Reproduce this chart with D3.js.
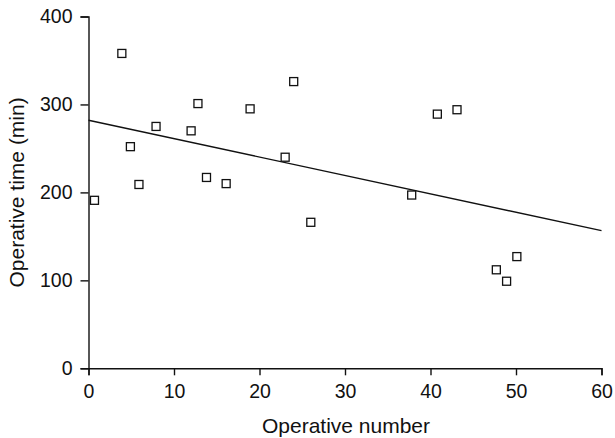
<!DOCTYPE html>
<html>
<head>
<meta charset="utf-8">
<script src="https://cdn.jsdelivr.net/npm/d3@7"></script>
<style>
  html, body { margin: 0; padding: 0; background: #fff; }
  svg { display: block; }
  text { font-family: "Liberation Sans", Arial, sans-serif; fill: #111; }
</style>
</head>
<body>
<svg id="chart" width="615" height="438"></svg>
<script>
// Data
const operativeNumber = [0.7, 3.9, 4.9, 5.9, 7.9, 12, 12.8, 13.8, 16.1, 18.9, 23, 24, 26, 37.8, 40.8, 43.1, 47.7, 48.9, 50.1];
const operativeTime   = [191, 358, 252, 209, 275, 270, 301, 217, 210, 295, 240, 326, 166, 197, 289, 294, 112, 99, 127];
const trendX = [0, 60];
const trendY = [282, 156.5];
const xTicks = [0, 10, 20, 30, 40, 50, 60];
const yTicks = [0, 100, 200, 300, 400];
const xLabel = "Operative number";
const yLabel = "Operative time (min)";

const svg = d3.select("#chart");
const x = d3.scaleLinear().domain([0, 60]).range([88.5, 601.5]);
const y = d3.scaleLinear().domain([0, 400]).range([368.3, 16.5]);

const stroke = "#111";

// X axis
const gx = svg.append("g")
  .attr("transform", `translate(0,${y(0)})`)
  .call(d3.axisBottom(x).tickValues(xTicks).tickSizeOuter(0).tickSize(7).tickPadding(9));
// Y axis
const gy = svg.append("g")
  .attr("transform", `translate(${x(0)},0)`)
  .call(d3.axisLeft(y).tickValues(yTicks).tickSizeOuter(0).tickSize(8).tickPadding(8));

[gx, gy].forEach(g => {
  g.select(".domain").attr("stroke", stroke).attr("stroke-width", 1.4);
  g.selectAll(".tick line").attr("stroke", stroke).attr("stroke-width", 1.4);
  g.selectAll(".tick text")
    .attr("font-family", "Liberation Sans, Arial, sans-serif")
    .attr("font-size", 19.5)
    .attr("fill", "#111");
});

// Trend line
const trend = trendX.map((d, i) => [d, trendY[i]]);
svg.append("path")
  .datum(trend)
  .attr("fill", "none")
  .attr("stroke", stroke)
  .attr("stroke-width", 1.4)
  .attr("d", d3.line().x(d => x(d[0])).y(d => y(d[1])));

// Points: open squares
const pts = operativeNumber.map((d, i) => ({ x: d, y: operativeTime[i] }));
const s = 8;
svg.append("g").selectAll("rect")
  .data(pts)
  .join("rect")
  .attr("x", d => x(d.x) - s / 2)
  .attr("y", d => y(d.y) - s / 2)
  .attr("width", s)
  .attr("height", s)
  .attr("fill", "#fff")
  .attr("stroke", stroke)
  .attr("stroke-width", 1.3);

// Axis titles
svg.append("text")
  .attr("x", (x(0) + x(60)) / 2 + 1)
  .attr("y", 433)
  .attr("text-anchor", "middle")
  .attr("font-size", 21)
  .text(xLabel);

svg.append("text")
  .attr("transform", `translate(24,${(y(0) + y(400)) / 2}) rotate(-90)`)
  .attr("text-anchor", "middle")
  .attr("font-size", 21)
  .text(yLabel);
</script>
</body>
</html>
